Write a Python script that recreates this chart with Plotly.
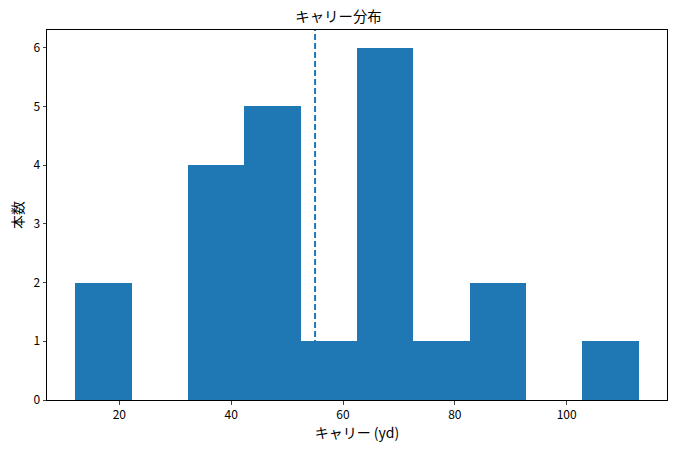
import plotly.graph_objects as go

bin_start = 12.1
bin_width = 10.08
counts = [2, 0, 4, 5, 1, 6, 1, 2, 0, 1]
mean_carry = 55.0

edges = [bin_start + i * bin_width for i in range(len(counts) + 1)]
centers = [(edges[i] + edges[i + 1]) / 2 for i in range(len(counts))]

font = "Noto Sans CJK JP"
fig = go.Figure()
fig.add_trace(go.Bar(x=centers, y=counts, width=[bin_width] * len(counts),
                     marker=dict(color="#1f77b4", line=dict(width=0)), showlegend=False))
fig.add_shape(type="line", x0=mean_carry, x1=mean_carry, xref="x", y0=0, y1=1, yref="paper",
              line=dict(color="#1f77b4", width=2, dash="6px,3px"))

span = edges[-1] - edges[0]
fig.update_layout(
    width=677, height=454,
    margin=dict(l=47, r=10, t=30, b=54, autoexpand=False),
    plot_bgcolor="white", paper_bgcolor="white",
    font=dict(family=font, size=12, color="black"),
    title=dict(text="キャリー分布", x=0.5, xanchor="center", y=1 - 17 / 454, yanchor="middle",
               font=dict(size=14.4)),
    bargap=0,
    xaxis=dict(range=[edges[0] - 0.05 * span, edges[-1] + 0.05 * span], automargin=False,
               tickvals=[20, 40, 60, 80, 100], ticks="outside", ticklen=3.5,
               showline=True, linecolor="black", linewidth=1, mirror=True, showgrid=False,
               zeroline=False, title=dict(text="キャリー (yd)", standoff=6)),
    yaxis=dict(range=[0, 6.3], tickvals=[0, 1, 2, 3, 4, 5, 6], ticks="outside", ticklen=3.5,
               automargin=False,
               showline=True, linecolor="black", linewidth=1, mirror=True, showgrid=False,
               zeroline=False, title=dict(text="本数", standoff=6)),
)
fig.write_html("out.html", config={"displayModeBar": False},
               post_script="document.body.style.margin='0px';document.body.style.overflow='hidden';")
